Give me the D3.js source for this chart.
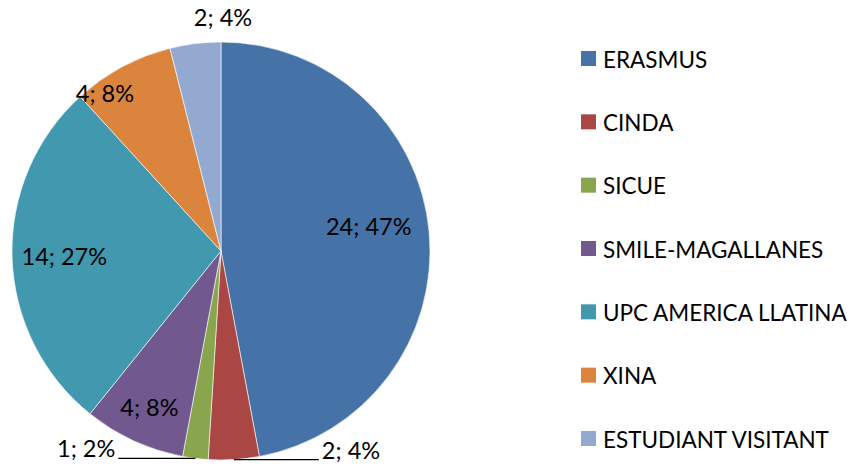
<!DOCTYPE html>
<html>
<head>
<meta charset="utf-8">
<script src="https://cdn.jsdelivr.net/npm/d3@7.9.0/dist/d3.min.js"></script>
<style>
  body { margin: 0; background: #fff; }
  text { font-family: Lato, sans-serif; fill: #000; }
</style>
</head>
<body>
<svg width="856" height="466"></svg>
<script>
const categories = ['ERASMUS', 'CINDA', 'SICUE', 'SMILE-MAGALLANES', 'UPC AMERICA LLATINA', 'XINA', 'ESTUDIANT VISITANT'];
const values = [24, 2, 1, 4, 14, 4, 2];
const colorList = ['#4572A7', '#AA4643', '#89A54E', '#71588F', '#4198AF', '#DB843D', '#93A9CF'];

// label placement per slice: inside radius factor, or outside with a leader line
const labelStyle = [
  { type: 'in', r: 0.717, rot: -4.3 },
  { type: 'leader', dir: 1, len: 85 },
  { type: 'leader', dir: -1, len: 77 },
  { type: 'in', r: 0.82 },
  { type: 'in', r: 0.75 },
  { type: 'in', r: 0.94, rot: -8 },
  { type: 'out', r: 1.13, dx: 31 },
];

const svg = d3.select('svg');
const cx = 221, cy = 251, R = 209;
const total = d3.sum(values);
const data = categories.map((c, i) => ({ label: c, value: values[i] }));

const color = d3.scaleOrdinal().domain(categories).range(colorList);
const pie = d3.pie().value((d) => d.value).sort(null);
const arc = d3.arc().innerRadius(0).outerRadius(R);
const arcs = pie(data);

const g = svg.append('g').attr('transform', `translate(${cx},${cy})`);

g.selectAll('path')
  .data(arcs)
  .join('path')
  .attr('d', arc)
  .attr('fill', (d) => color(d.data.label))
  .attr('stroke', '#fff')
  .attr('stroke-width', 0.6);

function pointAt(angle, r) {
  return [r * Math.sin(angle), -r * Math.cos(angle)];
}

arcs.forEach((d, i) => {
  const txt = `${d.data.value}; ${Math.round((d.data.value / total) * 100)}%`;
  const s = labelStyle[i];
  let mid = (d.startAngle + d.endAngle) / 2;
  if (s.rot) mid += (s.rot * Math.PI) / 180;
  if (s.type === 'in' || s.type === 'out') {
    const [x, y] = pointAt(mid, R * s.r);
    g.append('text')
      .attr('x', x + (s.dx || 0))
      .attr('y', y)
      .attr('text-anchor', 'middle')
      .attr('dominant-baseline', 'central')
      .attr('font-size', 23.5)
      .text(txt);
  } else {
    const [x, y] = pointAt(mid, R);
    const x2 = x + s.dir * s.len;
    g.append('line')
      .attr('x1', x).attr('y1', y)
      .attr('x2', x2).attr('y2', y)
      .attr('stroke', '#000')
      .attr('stroke-width', 1.2);
    g.append('text')
      .attr('x', x2 + s.dir * 3)
      .attr('y', y - 10)
      .attr('text-anchor', s.dir > 0 ? 'start' : 'end')
      .attr('dominant-baseline', 'central')
      .attr('font-size', 23.5)
      .text(txt);
  }
});

// legend
const legendY = d3.scalePoint().domain(categories).range([58, 438]);
const legend = svg.append('g').attr('transform', 'translate(581,0)');
const items = legend.selectAll('g')
  .data(categories)
  .join('g')
  .attr('transform', (c) => `translate(0,${legendY(c)})`);
items.append('rect')
  .attr('x', 0).attr('y', -7)
  .attr('width', 15).attr('height', 15)
  .attr('fill', (c) => color(c));
items.append('text')
  .attr('x', 22)
  .attr('y', 1)
  .attr('dominant-baseline', 'central')
  .attr('font-size', 22.5)
  .text((c) => c);
</script>
</body>
</html>
